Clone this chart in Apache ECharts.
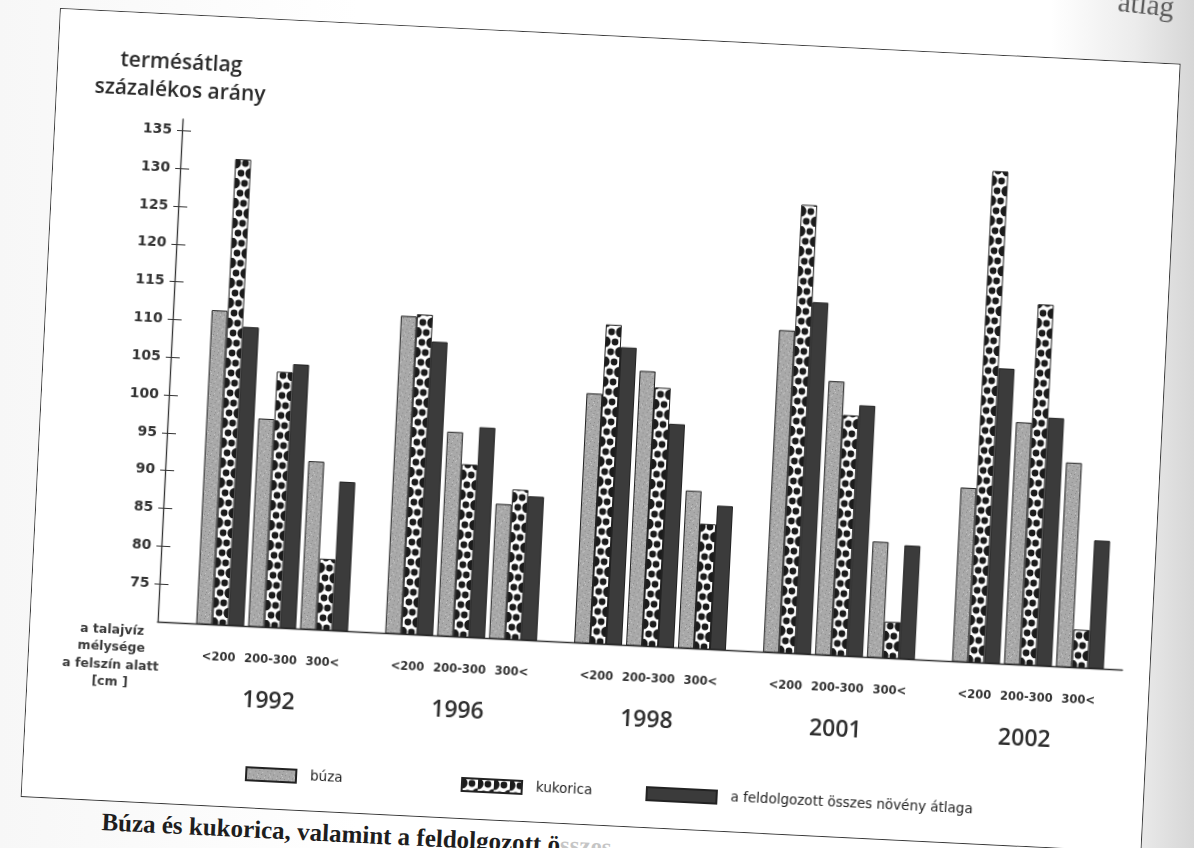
<!DOCTYPE html>
<html>
<head>
<meta charset="utf-8">
<title>termésátlag százalékos arány</title>
<script src="https://cdn.jsdelivr.net/npm/echarts@6/dist/echarts.min.js"></script>
<style>
  html, body {
    margin: 0;
    width: 1194px;
    height: 848px;
    overflow: hidden;
    /* scanned book page, darker towards the right edge */
    background: linear-gradient(90deg, #f7f7f7 0%, #ffffff 30%, #ffffff 88%, #ececec 95%, #d6d6d6 100%);
  }
  #page {
    position: absolute;
    left: 60px;
    top: 8px;
    transform: rotate(2.85deg);
    transform-origin: 0 0;
  }
  #chart {
    width: 1122px;
    height: 790px;
    border: 1.5px solid #3a3a3a;
    box-sizing: border-box;
    background: #fff;
  }
  #caption {
    position: absolute;
    left: 82px;
    top: 797px;
    font: bold 25px "Liberation Serif", serif;
    color: #1e1e1e;
    white-space: nowrap;
  }
  #caption span { opacity: 0.25; }
  #bleed {
    position: absolute;
    left: 1118px;
    top: -12px;
    font: 29px "Liberation Serif", serif;
    color: #5a5a5a;
    transform: rotate(6deg);
  }
</style>
</head>
<body>
<div id="page">
  <div id="chart"></div>
  <div id="caption">Búza és kukorica, valamint a feldolgozott ö<span>sszes</span></div>
</div>
<div id="bleed">átlag</div>

<script>
// values, order: year by year, inside a year <200, 200-300, 300<
const years = ['1992', '1996', '1998', '2001', '2002']
const depths = ['<200', '200-300', '300<']
const buza     = [111.5, 97.5, 92.2, 112.0, 97.0, 87.8, 103.0, 106.3, 90.8, 112.6, 106.2, 85.3, 93.0, 102.0, 97.0]
const kukorica = [131.6, 103.8, 79.4, 112.3, 92.8, 89.8, 112.2, 104.2, 86.5, 129.3, 101.8, 74.8, 135.0, 117.7, 75.0]
const atlag    = [109.5, 104.9, 89.7, 108.8, 97.8, 89.0, 109.3, 99.5, 89.0, 116.5, 103.2, 85.0, 109.0, 102.8, 86.9]
const yTicks = [75, 80, 85, 90, 95, 100, 105, 110, 115, 120, 125, 130, 135]

const FONT = 'DejaVu Sans'
const BAR_W = 16
const GAP_W = 4

// grey speckled fill of the wheat bars
function makeBuzaTile() {
  const c = document.createElement('canvas')
  c.width = 12; c.height = 12
  const g = c.getContext('2d')
  g.fillStyle = '#a9a9a9'
  g.fillRect(0, 0, 12, 12)
  g.fillStyle = '#8a8a8a'
  ;[[1, 2], [5, 1], [9, 3], [3, 6], [7, 7], [10, 9], [2, 10], [6, 11], [0, 5]].forEach(p => g.fillRect(p[0], p[1], 1, 1))
  g.fillStyle = '#c8c8c8'
  ;[[4, 4], [8, 0], [0, 8], [11, 6], [6, 9], [9, 11]].forEach(p => g.fillRect(p[0], p[1], 1, 1))
  return c
}

// white fill with black zigzag dots and scallops of the maize bars
function makeKukoricaTile() {
  const c = document.createElement('canvas')
  c.width = BAR_W; c.height = 20
  const g = c.getContext('2d')
  g.fillStyle = '#fff'
  g.fillRect(0, 0, BAR_W, 20)
  g.fillStyle = '#1b1b1b'
  const dot = (x, y, r) => { g.beginPath(); g.arc(x, y, r, 0, Math.PI * 2); g.fill() }
  dot(10, 5, 3.4)
  dot(6, 15, 3.4)
  dot(0, 5, 5.6)
  dot(BAR_W, 15, 5.6)
  dot(0, 25, 3.2)
  dot(BAR_W, -5, 3.2)
  return c
}

const buzaTile = makeBuzaTile()
const kukTile = makeKukoricaTile()

const crops = [
  { key: 'b', name: 'búza', values: buza, color: { image: buzaTile, repeat: 'repeat' } },
  { key: 'k', name: 'kukorica', values: kukorica, color: { image: kukTile, repeat: 'repeat' } },
  { key: 'a', name: 'a feldolgozott összes növény átlaga', values: atlag, color: '#3b3b3b' }
]

// 9 bar series (depth x crop) on a year axis, thin empty spacers between depth groups
const series = []
depths.forEach((d, di) => {
  if (di > 0) {
    series.push({
      id: 'gap' + di, type: 'bar', name: 'gap' + di, barWidth: GAP_W, barGap: 0,
      silent: true, data: years.map(() => '-')
    })
  }
  crops.forEach(c => {
    series.push({
      id: c.key + di,
      type: 'bar',
      name: c.name,
      barWidth: BAR_W,
      barGap: 0,
      xAxisIndex: 0,
      yAxisIndex: 0,
      data: years.map((y, yi) => c.values[yi * 3 + di]),
      itemStyle: { color: c.color, borderColor: '#222', borderWidth: 1 },
      emphasis: { disabled: true }
    })
  })
})

const legendLeft = [217, 433, 618]
const legendW = [50, 60, 70]

const yAxisBase = {
  type: 'value', gridIndex: 0, position: 'left', offset: 20,
  min: 70, max: 136.5, interval: 5,
  splitLine: { show: false }
}

const chart = echarts.init(document.getElementById('chart'))

chart.setOption({
  animation: false,
  backgroundColor: '#fff',
  grid: [
    { left: 147, right: 27, top: 104, bottom: 181 },
    { left: 127, right: 27, top: 104, bottom: 181 }
  ],
  legend: crops.map((c, i) => ({
    data: [c.name],
    left: legendLeft[i],
    top: 742,
    icon: 'rect',
    itemWidth: legendW[i],
    itemHeight: 13,
    selectedMode: false,
    textStyle: { fontFamily: FONT, fontSize: 13.5, color: '#222', padding: [0, 0, 0, 9] }
  })),
  xAxis: [
    {
      type: 'category', gridIndex: 0, data: years,
      axisLine: { show: false },
      axisTick: { show: false },
      axisLabel: {
        interval: 0,
        margin: 25,
        formatter: v => depths.map(d => '{d|' + d + '}').join('') + '\n{y|' + v + '}',
        rich: {
          d: { width: 52, align: 'center', fontFamily: FONT, fontWeight: 'bold', fontSize: 11.5, lineHeight: 16, color: '#333' },
          y: { align: 'center', fontFamily: 'Open Sans', fontWeight: 600, fontSize: 23, lineHeight: 66, color: '#2e2e2e' }
        }
      }
    },
    {
      // baseline from the value axis to the right end
      type: 'value', gridIndex: 1, min: 0, max: 1,
      axisLine: { show: true, lineStyle: { color: '#333', width: 1.3 } },
      axisTick: { show: false },
      axisLabel: { show: false },
      splitLine: { show: false }
    }
  ],
  yAxis: [
    Object.assign({}, yAxisBase, {
      axisLine: { show: true, lineStyle: { color: '#333', width: 1.3 } },
      axisTick: { show: true, length: 5, customValues: yTicks, lineStyle: { color: '#333' } },
      axisLabel: {
        customValues: yTicks,
        margin: 10,
        formatter: v => (v >= 75 && v % 5 === 0 ? String(v) : ''),
        fontFamily: FONT, fontWeight: 'bold', fontSize: 14, color: '#333'
      }
    }),
    Object.assign({}, yAxisBase, {
      axisLine: { show: false },
      axisTick: { show: true, inside: true, length: 9, customValues: yTicks, lineStyle: { color: '#333' } },
      axisLabel: { show: false }
    }),
    { type: 'value', gridIndex: 1, show: false }
  ],
  graphic: [
    {
      type: 'text', x: 123, y: 34,
      style: {
        text: 'termésátlag\nszázalékos arány',
        align: 'center', verticalAlign: 'top',
        fontFamily: 'Open Sans', fontWeight: 600, fontSize: 21, lineHeight: 28,
        fill: '#2b2b2b'
      }
    },
    {
      type: 'text', x: 82, y: 609,
      style: {
        text: 'a talajvíz\nmélysége\na felszín alatt\n[cm ]',
        align: 'center', verticalAlign: 'top',
        fontFamily: FONT, fontWeight: 'bold', fontSize: 12.5, lineHeight: 17.4,
        fill: '#3a3a3a'
      }
    }
  ],
  series: series
})

// line the maize pattern up with each bar's left edge
const kukUpdates = depths.map((d, di) => ({
  id: 'k' + di,
  data: years.map((y, yi) => {
    const center = chart.convertToPixel({ xAxisIndex: 0 }, y)
    const left = center - (9 * BAR_W + 2 * GAP_W) / 2 + di * (3 * BAR_W + GAP_W) + BAR_W
    return {
      value: kukorica[yi * 3 + di],
      itemStyle: { color: { image: kukTile, repeat: 'repeat', x: Math.round(left) } }
    }
  })
}))
chart.setOption({ series: kukUpdates })
</script>
</body>
</html>
